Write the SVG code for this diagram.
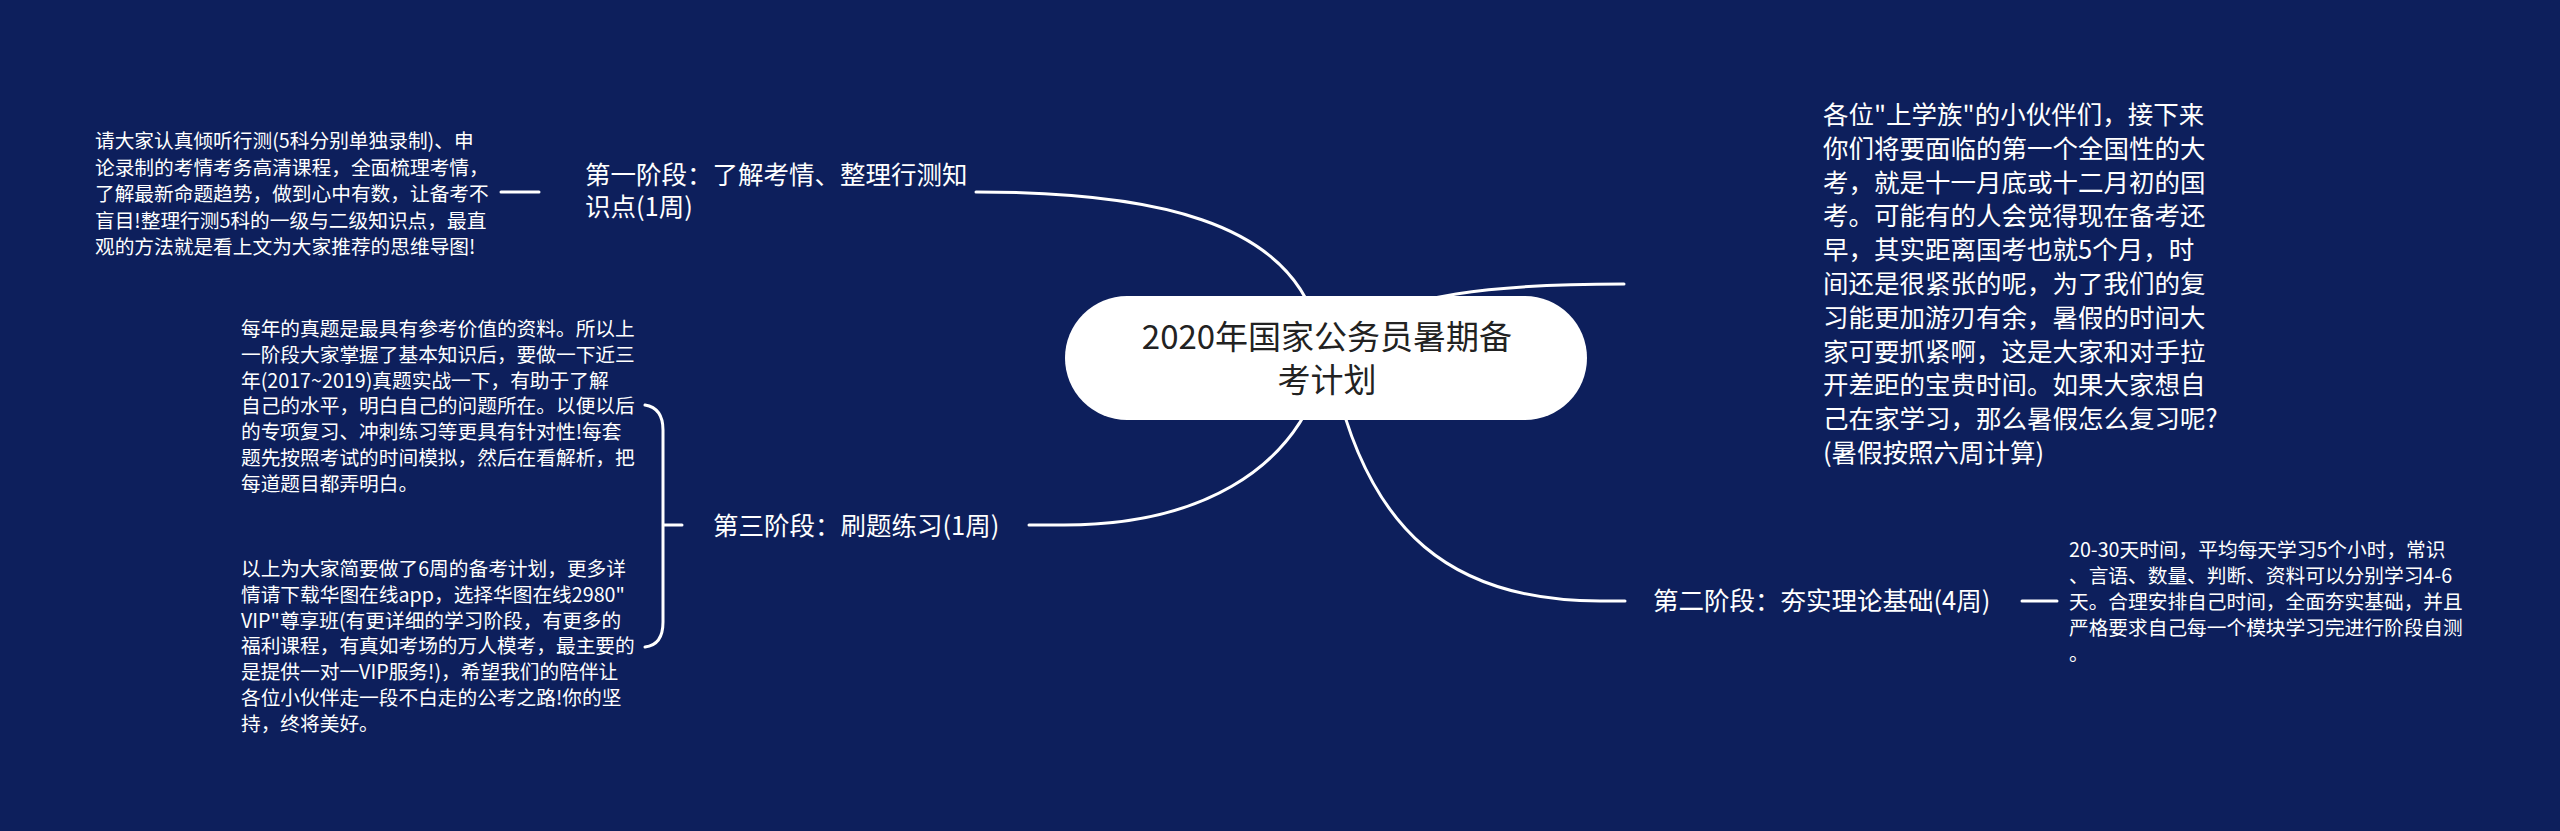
<svg xmlns="http://www.w3.org/2000/svg" width="2560" height="831" viewBox="0 0 2560 831">
<style>
.bg{fill:#0d1f5c}
.ln{fill:none;stroke:#ffffff;stroke-width:3;stroke-linecap:round}
.t{font-family:"Noto Sans CJK SC","Noto Sans",sans-serif;fill:#ffffff}
.lab{font-size:25.5px}
.sm{font-size:19.7px}
.root{font-family:"Noto Sans CJK SC","Noto Sans",sans-serif;fill:#222222;font-size:33px}
</style>
<rect class="bg" x="0" y="0" width="2560" height="831"/>
<g id="connectors">
<path class="ln" d="M976 192 C1150 192 1290 220 1318 330"/>
<path class="ln" d="M1624 284 C1500 284 1400 292 1326 340"/>
<path class="ln" d="M1029 525 L1064 525 C1200 525 1290 470 1320 380"/>
<path class="ln" d="M1625 601 L1600 601 C1450 601 1370 530 1335 380"/>
<path class="ln" d="M501 192 L539 192"/>
<path class="ln" d="M645 405 Q663 408 663 430 L663 622 Q663 645 645 647 M663 525 L682 525"/>
<path class="ln" d="M2022 601 L2057 601"/>
</g>
<g id="root">
<rect x="1065" y="296" width="522" height="124" rx="62" ry="62" fill="#ffffff"/>
<text class="root" text-anchor="middle"><tspan x="1327" y="349">2020年国家公务员暑期备</tspan><tspan x="1327" y="392">考计划</tspan></text>
</g>
<g id="stage1">
<text class="t lab"><tspan x="585" y="184">第一阶段：了解考情、整理行测知</tspan><tspan x="585" y="216">识点(1周)</tspan></text>
</g>
<g id="stage1-detail">
<text class="t sm"><tspan x="95" y="148">请大家认真倾听行测(5科分别单独录制)、申</tspan><tspan x="95" y="174.5">论录制的考情考务高清课程，全面梳理考情，</tspan><tspan x="95" y="201">了解最新命题趋势，做到心中有数，让备考不</tspan><tspan x="95" y="227.5">盲目!整理行测5科的一级与二级知识点，最直</tspan><tspan x="95" y="254">观的方法就是看上文为大家推荐的思维导图!</tspan></text>
</g>
<g id="stage3">
<text class="t lab"><tspan x="713" y="535">第三阶段：刷题练习(1周)</tspan></text>
</g>
<g id="stage3-detail-a">
<text class="t sm"><tspan x="241" y="336">每年的真题是最具有参考价值的资料。所以上</tspan><tspan x="241" y="361.8">一阶段大家掌握了基本知识后，要做一下近三</tspan><tspan x="241" y="387.6">年(2017~2019)真题实战一下，有助于了解</tspan><tspan x="241" y="413.4">自己的水平，明白自己的问题所在。以便以后</tspan><tspan x="241" y="439.2">的专项复习、冲刺练习等更具有针对性!每套</tspan><tspan x="241" y="465">题先按照考试的时间模拟，然后在看解析，把</tspan><tspan x="241" y="490.8">每道题目都弄明白。</tspan></text>
</g>
<g id="stage3-detail-b">
<text class="t sm"><tspan x="241" y="576">以上为大家简要做了6周的备考计划，更多详</tspan><tspan x="241" y="601.8">情请下载华图在线app，选择华图在线2980"</tspan><tspan x="241" y="627.6">VIP"尊享班(有更详细的学习阶段，有更多的</tspan><tspan x="241" y="653.4">福利课程，有真如考场的万人模考，最主要的</tspan><tspan x="241" y="679.2">是提供一对一VIP服务!)，希望我们的陪伴让</tspan><tspan x="241" y="705">各位小伙伴走一段不白走的公考之路!你的坚</tspan><tspan x="241" y="730.8">持，终将美好。</tspan></text>
</g>
<g id="intro">
<text class="t lab"><tspan x="1823" y="124">各位"上学族"的小伙伴们，接下来</tspan><tspan x="1823" y="157.8">你们将要面临的第一个全国性的大</tspan><tspan x="1823" y="191.6">考，就是十一月底或十二月初的国</tspan><tspan x="1823" y="225.4">考。可能有的人会觉得现在备考还</tspan><tspan x="1823" y="259.2">早，其实距离国考也就5个月，时</tspan><tspan x="1823" y="293">间还是很紧张的呢，为了我们的复</tspan><tspan x="1823" y="326.8">习能更加游刃有余，暑假的时间大</tspan><tspan x="1823" y="360.6">家可要抓紧啊，这是大家和对手拉</tspan><tspan x="1823" y="394.4">开差距的宝贵时间。如果大家想自</tspan><tspan x="1823" y="428.2">己在家学习，那么暑假怎么复习呢?</tspan><tspan x="1823" y="462">(暑假按照六周计算)</tspan></text>
</g>
<g id="stage2">
<text class="t lab"><tspan x="1653" y="610">第二阶段：夯实理论基础(4周)</tspan></text>
</g>
<g id="stage2-detail">
<text class="t sm"><tspan x="2069" y="557">20-30天时间，平均每天学习5个小时，常识</tspan><tspan x="2069" y="583">、言语、数量、判断、资料可以分别学习4-6</tspan><tspan x="2069" y="609">天。合理安排自己时间，全面夯实基础，并且</tspan><tspan x="2069" y="635">严格要求自己每一个模块学习完进行阶段自测</tspan><tspan x="2069" y="661">。</tspan></text>
</g>
</svg>
